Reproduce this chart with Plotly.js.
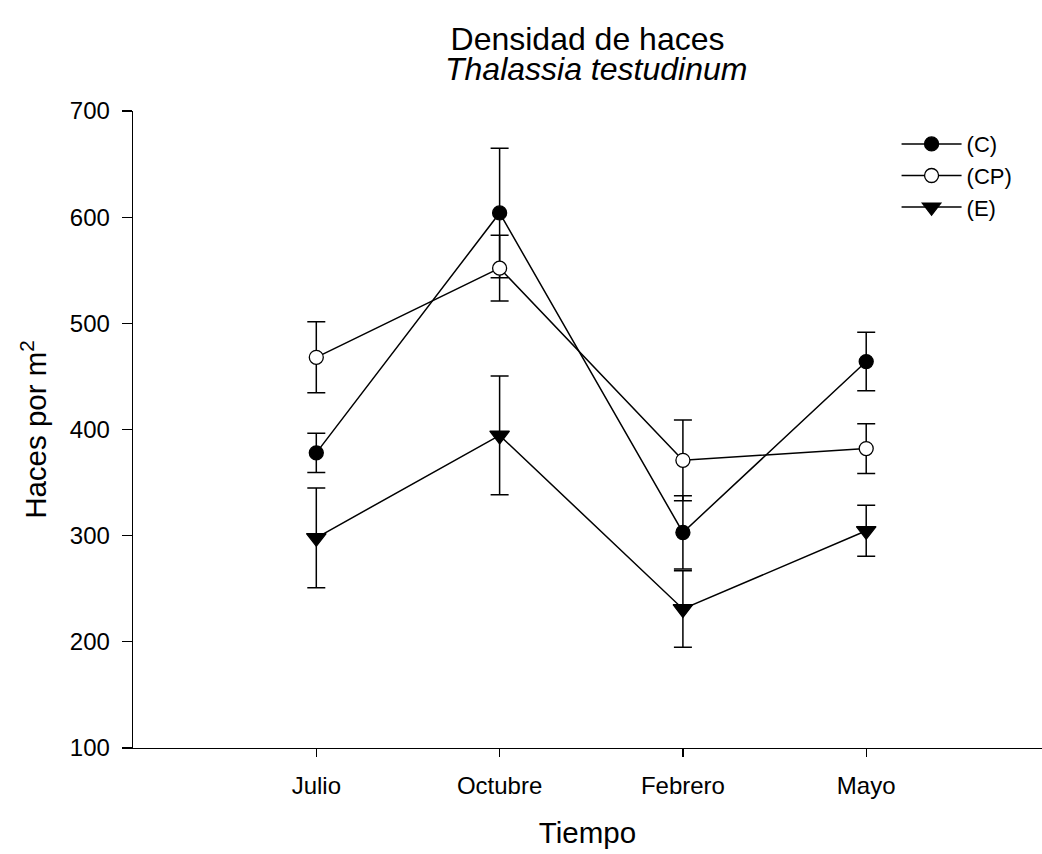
<!DOCTYPE html>
<html>
<head>
<meta charset="utf-8">
<script src="https://cdn.plot.ly/plotly-3.0.1.min.js"></script>
<style>html,body{margin:0;padding:0;background:#fff;}#chart{width:1042px;height:854px;}</style>
</head>
<body>
<div id="chart"></div>
<script>
const months = ["Julio", "Octubre", "Febrero", "Mayo"];
const seriesNames = ["(C)", "(CP)", "(E)"];
const valuesC = [378, 604, 303, 464];
const errC = [18.5, 61, 34.5, 27.5];
const valuesCP = [468, 552, 371, 382];
const errCP = [33.5, 31, 38, 23.5];
const valuesE = [298, 394.5, 231, 304.6];
const errE = [47, 56, 36, 24];
const yTicks = [100, 200, 300, 400, 500, 600, 700];
const titleLine1 = "Densidad de haces";
const titleLine2 = "Thalassia testudinum";

const FONT = "Liberation Sans, Arial, sans-serif";

function series(name, y, err, symbol, fill, size) {
  return {
    type: "scatter", mode: "lines+markers", name: name,
    x: months, y: y,
    line: {color: "#000", width: 1.5},
    marker: {symbol: symbol, size: size, color: fill, line: {color: "#000", width: 1.3}},
    error_y: {type: "data", array: err, visible: true, color: "#000", thickness: 1.5, width: 9}
  };
}

const data = [
  series(seriesNames[0], valuesC, errC, "circle", "#000", 14),
  series(seriesNames[1], valuesCP, errCP, "circle", "#fff", 14),
  series(seriesNames[2], valuesE, errE, "triangle-down", "#000", 17)
];

const layout = {
  width: 1042, height: 854,
  margin: {l: 133, r: 0, t: 111, b: 106, pad: 0},
  paper_bgcolor: "#fff", plot_bgcolor: "#fff",
  font: {family: FONT, color: "#000", size: 24},
  showlegend: true,
  title: {
    text: titleLine1,
    font: {family: FONT, size: 32, color: "#000"},
    x: 0.5, xref: "paper", xanchor: "center",
    y: 1 - 39 / 854, yref: "container", yanchor: "middle"
  },
  annotations: [{
    text: "<i>" + titleLine2 + "</i>",
    xref: "paper", yref: "paper", x: 0.5, xanchor: "center", xshift: 8,
    y: 1 + (111 - 69) / 637, yanchor: "middle",
    showarrow: false,
    font: {family: FONT, size: 32, color: "#000"}
  }],
  xaxis: {
    type: "category", range: [-1, 3.959],
    showgrid: false, zeroline: false,
    showline: true, linecolor: "#000", linewidth: 1.3,
    ticks: "outside", ticklen: 8, tickwidth: 1.3, tickcolor: "#000",
    ticklabelstandoff: 8,
    tickfont: {family: FONT, size: 24, color: "#000"},
    title: {text: "Tiempo", font: {family: FONT, size: 29.5, color: "#000"}, standoff: 24}
  },
  yaxis: {
    range: [100, 700], tickvals: yTicks,
    showgrid: false, zeroline: false,
    showline: true, linecolor: "#000", linewidth: 1.3,
    ticks: "outside", ticklen: 10, tickwidth: 1.3, tickcolor: "#000",
    ticklabelstandoff: 7,
    tickfont: {family: FONT, size: 24, color: "#000"},
    title: {text: "Haces por m<sup>2</sup>", font: {family: FONT, size: 29.5, color: "#000"}, standoff: 14}
  },
  legend: {
    x: 0.84, y: 0.981, xref: "paper", yref: "paper", xanchor: "left", yanchor: "top",
    bgcolor: "rgba(0,0,0,0)", borderwidth: 0,
    font: {family: FONT, size: 22, color: "#000"},
    itemwidth: 60, tracegroupgap: 0
  }
};

Plotly.newPlot("chart", data, layout, {displayModeBar: false, staticPlot: true});
</script>
</body>
</html>
